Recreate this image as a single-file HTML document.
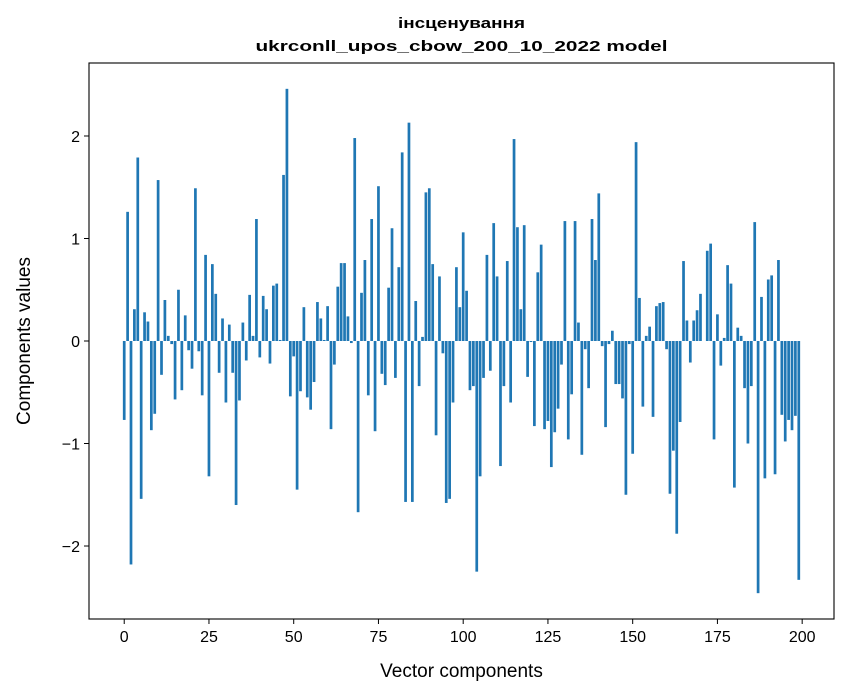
<!DOCTYPE html>
<html><head><meta charset="utf-8"><style>
body{margin:0;background:#fff;}
svg{display:block;font-family:"Liberation Sans","DejaVu Sans",sans-serif;}
</style></head><body>
<svg id="chart" width="847" height="696" viewBox="0 0 847 696" xmlns="http://www.w3.org/2000/svg">
<rect x="0" y="0" width="847" height="696" fill="#fff"/>
<text x="461.5" y="28" text-anchor="middle" font-size="15" font-weight="bold" textLength="127" lengthAdjust="spacingAndGlyphs">інсценування</text>
<text x="461.5" y="51" text-anchor="middle" font-size="15" font-weight="bold" textLength="412" lengthAdjust="spacingAndGlyphs">ukrconll_upos_cbow_200_10_2022 model</text>
<g id="bars"></g>
<g id="axes"></g>
<rect x="89" y="63" width="745" height="556" fill="none" stroke="#000" stroke-width="1.1"/>
<text x="461.5" y="677" text-anchor="middle" font-size="19">Vector components</text>
<text transform="translate(30,341) rotate(-90)" text-anchor="middle" font-size="19">Components values</text>
</svg>
<script>
const values = [
-0.77,1.26,-2.18,0.31,1.79,-1.54,0.28,0.19,-0.87,-0.71,
1.57,-0.33,0.40,0.05,-0.03,-0.57,0.50,-0.48,0.25,-0.09,
-0.27,1.49,-0.10,-0.53,0.84,-1.32,0.75,0.46,-0.31,0.22,
-0.60,0.16,-0.31,-1.60,-0.58,0.18,-0.19,0.45,0.05,1.19,
-0.16,0.44,0.31,-0.22,0.54,0.56,0.01,1.62,2.46,-0.54,
-0.15,-1.45,-0.49,0.33,-0.55,-0.67,-0.40,0.38,0.22,0.01,
0.34,-0.86,-0.23,0.53,0.76,0.76,0.24,-0.02,1.98,-1.67,
0.47,0.79,-0.53,1.19,-0.88,1.51,-0.32,-0.43,0.52,1.10,
-0.36,0.72,1.84,-1.57,2.13,-1.57,0.39,-0.44,0.04,1.45,
1.49,0.75,-0.92,0.63,-0.12,-1.58,-1.54,-0.60,0.72,0.33,
1.06,0.49,-0.48,-0.44,-2.25,-1.32,-0.36,0.84,-0.29,1.15,
0.63,-1.22,-0.44,0.78,-0.60,1.97,1.11,0.31,1.13,-0.35,
-0.01,-0.83,0.67,0.94,-0.86,-0.78,-1.23,-0.89,-0.66,-0.23,
1.17,-0.96,-0.52,1.17,0.18,-1.11,-0.08,-0.46,1.19,0.79,
1.44,-0.05,-0.84,-0.03,0.10,-0.42,-0.42,-0.56,-1.50,-0.03,
-1.10,1.94,0.42,-0.64,0.05,0.14,-0.74,0.34,0.37,0.38,
-0.08,-1.49,-1.07,-1.88,-0.79,0.78,0.20,-0.21,0.20,0.30,
0.46,0.00,0.88,0.95,-0.96,0.26,-0.24,0.03,0.74,0.56,
-1.43,0.13,0.05,-0.46,-1.00,-0.44,1.16,-2.46,0.43,-1.34,
0.60,0.64,-1.30,0.79,-0.72,-0.98,-0.77,-0.87,-0.73,-2.33
];
const xTicks = [0,25,50,75,100,125,150,175,200];
const yTicks = [-2,-1,0,1,2];

const L=89,R=834,T=63,B=619;
const xMin=-10.39,xMax=209.39,yMin=-2.712,yMax=2.712;
const sx=v=>L+(v-xMin)/(xMax-xMin)*(R-L);
const sy=v=>B-(v-yMin)/(yMax-yMin)*(B-T);
const NS="http://www.w3.org/2000/svg";
const bars=document.getElementById('bars');
const bw=sx(0.8)-sx(0);
values.forEach((v,i)=>{
  const r=document.createElementNS(NS,'rect');
  const y0=sy(0),y1=sy(v);
  r.setAttribute('x',sx(i)-bw/2);
  r.setAttribute('y',Math.min(y0,y1));
  r.setAttribute('width',bw);
  r.setAttribute('height',Math.abs(y1-y0));
  r.setAttribute('fill','#1f77b4');
  
  
  bars.appendChild(r);
});
const axes=document.getElementById('axes');
xTicks.forEach(t=>{
  const x=sx(t);
  const l=document.createElementNS(NS,'line');
  l.setAttribute('x1',x);l.setAttribute('x2',x);l.setAttribute('y1',B);l.setAttribute('y2',B+5);
  l.setAttribute('stroke','#000');
  
  
  axes.appendChild(l);
  const tx=document.createElementNS(NS,'text');
  tx.setAttribute('x',x);tx.setAttribute('y',B+23);
  tx.setAttribute('text-anchor','middle');tx.setAttribute('font-size','16');
  tx.textContent=String(t);
  
  
  axes.appendChild(tx);
});
yTicks.forEach(t=>{
  const y=sy(t);
  const l=document.createElementNS(NS,'line');
  l.setAttribute('x1',L-5);l.setAttribute('x2',L);l.setAttribute('y1',y);l.setAttribute('y2',y);
  l.setAttribute('stroke','#000');
  
  
  axes.appendChild(l);
  const tx=document.createElementNS(NS,'text');
  tx.setAttribute('x',L-9);tx.setAttribute('y',y+6);
  tx.setAttribute('text-anchor','end');tx.setAttribute('font-size','16');
  tx.textContent=t<0?'\u2212'+Math.abs(t):String(t);
  
  
  axes.appendChild(tx);
});
</script>
</body></html>
